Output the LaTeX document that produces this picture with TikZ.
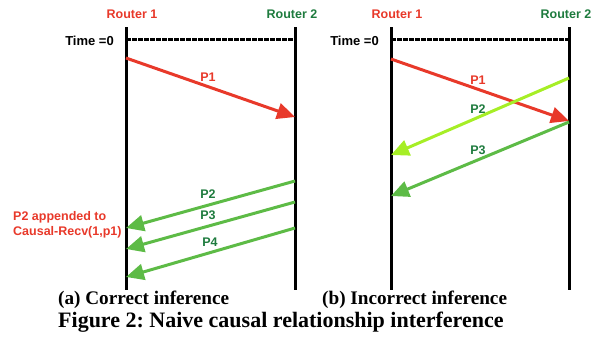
\documentclass[tikz,border=0pt]{standalone}
\usepackage{fontspec}
\setmainfont{Liberation Serif}
\setsansfont{Liberation Sans}
\usetikzlibrary{arrows.meta}
\frenchspacing
\definecolor{rred}{HTML}{E8392A}
\definecolor{dgreen}{HTML}{1E7B3E}
\definecolor{mgreen}{HTML}{5DBB46}
\definecolor{lgreen}{HTML}{A6EE26}
\tikzset{
  lbl/.style={font=\sffamily\bfseries\fontsize{12.5}{14}\selectfont, inner sep=0pt},
  timeline/.style={line width=3pt, black},
  zeroline/.style={line width=3pt, black, dash pattern=on 5pt off 1pt},
  msg/.style={line width=3pt, -{Triangle[length=18pt,width=16pt]}},
  captext/.style={font=\rmfamily\bfseries\fontsize{19.2}{21}\selectfont, inner sep=0pt}
}
\begin{document}
\begin{tikzpicture}[x=1pt,y=-1pt]
\useasboundingbox (0,0) rectangle (600,341);
% ---- panel (a)
\coordinate (a1t) at (126,27); \coordinate (a1b) at (126,290);
\coordinate (a2t) at (295,27); \coordinate (a2b) at (295,290);
\draw[timeline] (a1t) -- (a1b);
\draw[timeline] (a2t) -- (a2b);
\node[lbl, text=rred] (ar1) at (132,14) {Router 1};
\node[lbl, text=dgreen] (ar2) at (292,14) {Router 2};
\node[lbl, anchor=east, font=\sffamily\bfseries\fontsize{13}{14}\selectfont] (at0) at (114,41) {Time =0};
\coordinate (az1) at (126,39); \coordinate (az2) at (295,39);
\draw[zeroline] (az1) -- (az2);
\coordinate (ap1s) at (126,58); \coordinate (ap1e) at (295,117);
\draw[msg, rred] (ap1s) -- (ap1e);
\node[lbl, text=rred] (ap1l) at (208,77) {P1};
\coordinate (ap2s) at (295,181); \coordinate (ap2e) at (126,228);
\coordinate (ap3s) at (295,202); \coordinate (ap3e) at (126,249);
\coordinate (ap4s) at (295,228); \coordinate (ap4e) at (126,277);
\draw[msg, mgreen] (ap2s) -- (ap2e);
\draw[msg, mgreen] (ap3s) -- (ap3e);
\draw[msg, mgreen] (ap4s) -- (ap4e);
\node[lbl, text=dgreen] (ap2l) at (208,194) {P2};
\node[lbl, text=dgreen] (ap3l) at (208,215) {P3};
\node[lbl, text=dgreen] (ap4l) at (210,242) {P4};
\node[lbl, text=rred, anchor=north west, align=left, font=\sffamily\bfseries\fontsize{12.5}{15.5}\selectfont] (anote) at (13,211) {P2 appended to\\Causal-Recv(1,p1)};
% ---- panel (b)
\coordinate (b1t) at (391,27); \coordinate (b1b) at (391,290);
\coordinate (b2t) at (569,27); \coordinate (b2b) at (569,290);
\draw[timeline] (b1t) -- (b1b);
\draw[timeline] (b2t) -- (b2b);
\node[lbl, text=rred] (br1) at (397,14) {Router 1};
\node[lbl, text=dgreen] (br2) at (566,14) {Router 2};
\node[lbl, anchor=east, font=\sffamily\bfseries\fontsize{13}{14}\selectfont] (bt0) at (379,41) {Time =0};
\coordinate (bz1) at (391,39); \coordinate (bz2) at (569,39);
\draw[zeroline] (bz1) -- (bz2);
\coordinate (bp1s) at (391,59); \coordinate (bp1e) at (569,121);
\coordinate (bp2s) at (569,78); \coordinate (bp2e) at (391,155);
\coordinate (bp3s) at (569,122); \coordinate (bp3e) at (391,196);
\draw[msg, rred] (bp1s) -- (bp1e);
\draw[msg, lgreen] (bp2s) -- (bp2e);
\draw[msg, mgreen] (bp3s) -- (bp3e);
\node[lbl, text=rred] (bp1l) at (478,80) {P1};
\node[lbl, text=dgreen] (bp2l) at (478,109) {P2};
\node[lbl, text=dgreen] (bp3l) at (478,150) {P3};
% ---- captions
\node[captext, anchor=west] (capa) at (58,300) {(a) Correct inference};
\node[captext, anchor=west] (capb) at (322,300) {(b) Incorrect inference};
\node[captext, anchor=west, font=\rmfamily\bfseries\fontsize{22}{23}\selectfont] (capf) at (58,322) {Figure 2: Naive causal relationship interference};
\end{tikzpicture}
\end{document}
